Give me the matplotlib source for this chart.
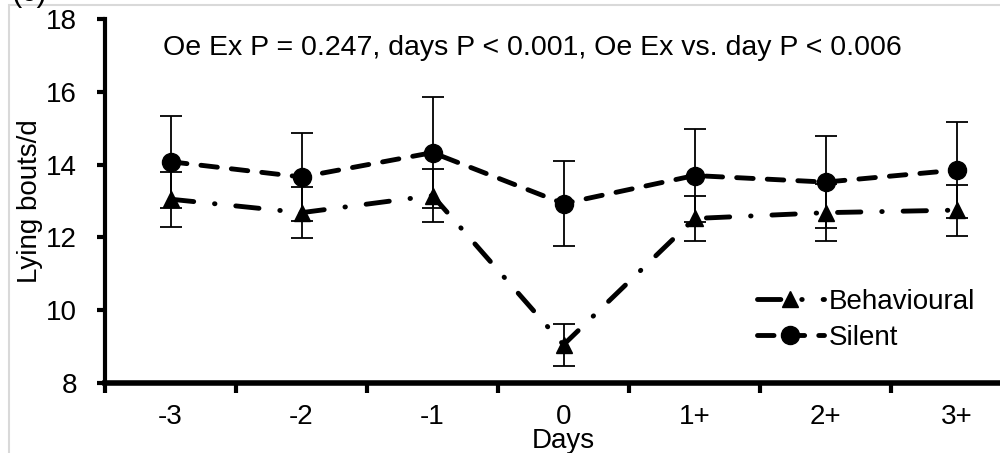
import numpy as np
import matplotlib
matplotlib.use("Agg")
import matplotlib.pyplot as plt
from matplotlib.patches import Rectangle

# values
days = ["-3", "-2", "-1", "0", "1+", "2+", "3+"]
behavioural = [13.05, 12.68, 13.15, 9.05, 12.52, 12.68, 12.75]
behavioural_err = [0.76, 0.70, 0.72, 0.57, 0.63, 0.78, 0.70]
silent = [14.08, 13.66, 14.33, 12.93, 13.70, 13.52, 13.85]
silent_err = [1.26, 1.22, 1.52, 1.16, 1.28, 1.26, 1.33]
stats_text = "Oe Ex P = 0.247, days P < 0.001, Oe Ex vs. day P < 0.006"

plt.rcParams['font.family'] = ['Liberation Sans', 'DejaVu Sans']
fs = 20

fig = plt.figure(figsize=(10, 4.53), dpi=100)
ax = fig.add_axes([0.105, 0.1545, 0.917, 0.8035])

x = np.arange(len(days))

# silent: dashed, circles
ax.errorbar(x, silent, yerr=silent_err, fmt='none', ecolor='black',
            elinewidth=1.3, capsize=8, capthick=1.3, zorder=2)
l_sil, = ax.plot(x, silent, color='black', lw=3.5, marker='o', markersize=13,
                 dashes=(3.4, 2.9), dash_capstyle='round', zorder=3,
                 label='Silent')

# behavioural: dash-dot, triangles
ax.errorbar(x, behavioural, yerr=behavioural_err, fmt='none', ecolor='black',
            elinewidth=1.3, capsize=8, capthick=1.3, zorder=2)
l_beh, = ax.plot(x, behavioural, color='black', lw=3.5, marker='^', markersize=12,
                 dashes=(4.8, 4.3, 0.1, 4.3), dash_capstyle='round', zorder=3,
                 label='Behavioural')

ax.set_xlim(-0.5, len(days) - 0.5)
ax.set_ylim(8, 18)
ax.set_yticks(np.arange(8, 19, 2))

# ticks sit between the categories, labels in the middle
ax.set_xticks(np.arange(-0.5, len(days), 1.0))
ax.set_xticklabels([])
ax.set_xticks(x, minor=True)
ax.set_xticklabels(days, minor=True)
ax.tick_params(axis='x', which='major', direction='out', length=7, width=3)
ax.tick_params(axis='x', which='minor', length=0, pad=15, labelsize=fs)
ax.tick_params(axis='y', direction='out', length=6, width=3, labelsize=fs, pad=14)

for s in ['top', 'right']:
    ax.spines[s].set_visible(False)
ax.spines['left'].set_linewidth(3)
ax.spines['bottom'].set_linewidth(4)

ax.set_xlabel("Days", fontsize=fs, labelpad=-1)
ax.set_ylabel("Lying bouts/d", fontsize=fs, labelpad=2)

ax.text(0.063, 0.92, stats_text, transform=ax.transAxes, fontsize=20.5,
        va='center', ha='left')

ax.legend(handles=[l_beh, l_sil], loc='upper left', frameon=False,
          bbox_to_anchor=(0.757, 1 - 289 / 453), bbox_transform=fig.transFigure,
          borderpad=0, borderaxespad=0, handlelength=2.4, handletextpad=0.17,
          labelspacing=0.36, fontsize=fs)

# light grey frame and the cut-off panel letter at the top
fig.patches.append(Rectangle((8.5 / 1000, -0.1), 1.2, 1 - 5.5 / 453 + 0.1,
                             transform=fig.transFigure, fill=False,
                             edgecolor='#d9d9d9', lw=1.5))
fig.text(0.011, 1 - 0.5 / 453, "(c)", fontsize=22, va='baseline', ha='left')

fig.savefig("out.png", dpi=100)
